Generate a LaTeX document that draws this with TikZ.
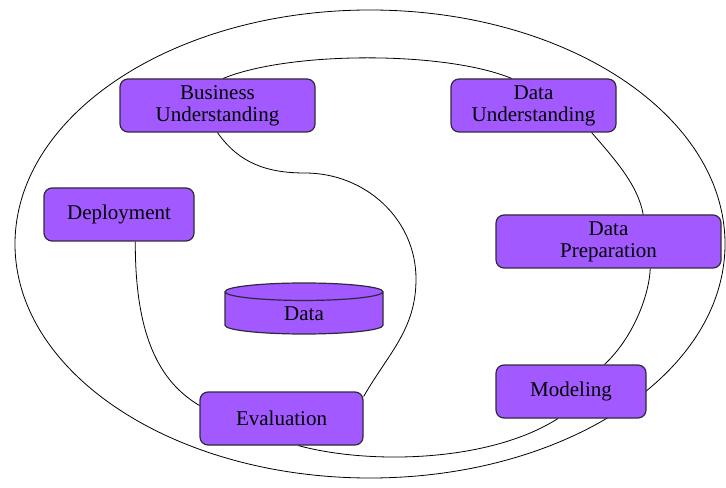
\documentclass[tikz,border=0pt]{standalone}
\usepackage{fontspec}
\setmainfont{Liberation Serif}
\usetikzlibrary{shapes.geometric}
\definecolor{phasefill}{RGB}{162,89,255}
\definecolor{phaseline}{RGB}{50,40,60}

\begin{document}
\begin{tikzpicture}[x=0.5pt,y=0.5pt,
    phase/.style={draw=phaseline,fill=phasefill,rounded corners=4pt,line width=0.6pt,
      minimum height=26.5pt,align=center,inner sep=1pt,font=\fontsize{10.5}{11}\selectfont},
    store/.style={cylinder,shape border rotate=90,aspect=0.4,draw=phaseline,fill=phasefill,
      line width=0.6pt,minimum width=79pt,minimum height=25.5pt,inner sep=1pt,
      font=\fontsize{10.5}{11}\selectfont},
    link/.style={line width=0.4pt}]
  \useasboundingbox (0,0) rectangle (726,487);
  \draw[link] (370,243) ellipse [x radius=355,y radius=234];

  % phases of the cycle
  \node[phase,minimum width=97.5pt] (business) at (217.5,381.5) {Business\\Understanding};
  \node[phase,minimum width=82.5pt] (understand) at (533.5,381.5) {Data\\Understanding};
  \node[phase,minimum width=75pt] (deploy) at (119,272.5) {Deployment};
  \node[phase,minimum width=112.5pt] (prepare) at (608.5,245.5) {Data\\Preparation};
  \node[store,anchor=shape center] (data) at (304,178.5) {Data};
  \node[phase,minimum width=81.5pt] (evaluate) at (281.5,68.5) {Evaluation};
  \node[phase,minimum width=75pt] (model) at (571,95.5) {Modeling};

  % inner loop
  \draw[link] (business.78) .. controls (290,436) and (445,436) .. (understand.129);
  \draw[link] (understand.-25) .. controls (620,322) and (638,300) .. (prepare.38);
  \draw[link] (prepare.-33) .. controls (649,190) and (632,148) .. (model.39);
  \draw[link] (model.-116) .. controls (490,25) and (370,22) .. (evaluate.-58);
  \draw[link] (evaluate.15) to[out=60,in=-90] (416,208) to[out=90,in=0] (305,314)
    to[out=180,in=-55] (business.south);
  \draw[link] (deploy.-59) .. controls (135,150) and (160,105) .. (evaluate.171);
\end{tikzpicture}
\end{document}
